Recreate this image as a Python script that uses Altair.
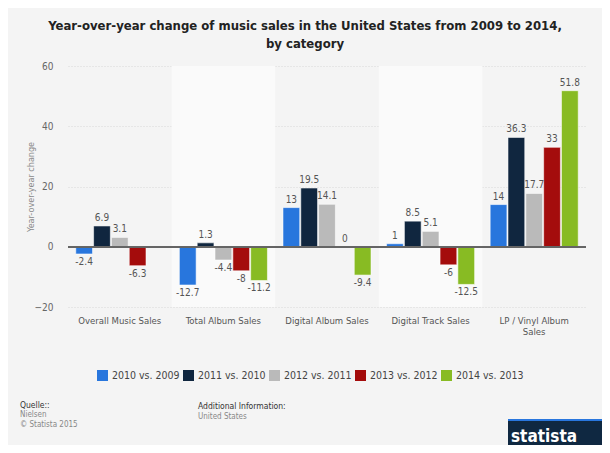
import altair as alt
import pandas as pd

categories = ["Overall Music Sales", "Total Album Sales", "Digital Album Sales",
              "Digital Track Sales", "LP / Vinyl Album Sales"]
series = ["2010 vs. 2009", "2011 vs. 2010", "2012 vs. 2011", "2013 vs. 2012", "2014 vs. 2013"]
colors = ["#2876dd", "#10263f", "#bababa", "#a40c0c", "#88bb23"]

v2010 = [-2.4, -12.7, 13, 1, 14]
v2011 = [6.9, 1.3, 19.5, 8.5, 36.3]
v2012 = [3.1, -4.4, 14.1, 5.1, 17.7]
v2013 = [-6.3, -8, 0, -6, 33]
v2014 = [None, -11.2, -9.4, -12.5, 51.8]

shaded = ["Total Album Sales", "Digital Track Sales"]

rows = []
for s, vals in zip(series, [v2010, v2011, v2012, v2013, v2014]):
    for c, v in zip(categories, vals):
        if v is None:
            continue
        lab = ("%g" % v)
        rows.append({"category": c, "series": s, "value": v, "label": lab})
df = pd.DataFrame(rows)

bands = pd.DataFrame({"category": shaded, "top": [60] * len(shaded), "bottom": [-20] * len(shaded)})

FONT = "'DejaVu Sans Condensed', 'DejaVu Sans', sans-serif"
W, H = 518, 241

xscale = alt.Scale(domain=categories, paddingInner=0.15, paddingOuter=0.075)
yscale = alt.Scale(domain=[-20, 60], nice=False)

x_axis = alt.Axis(labelAngle=0, domain=False, ticks=False, labelPadding=8,
                  bandPosition=0.5,
                  labelColor="#555555", labelFontSize=9.5, labelFont=FONT,
                  labelExpr="datum.label == 'LP / Vinyl Album Sales' ? ['LP / Vinyl Album', 'Sales'] : datum.label")
x_enc = alt.X("category:N", scale=xscale, sort=categories, title=None, axis=x_axis)
y_axis = alt.Axis(values=[-20, 0, 20, 40, 60], domain=False, ticks=False,
                  labelPadding=15, labelColor="#666666", labelFontSize=10, labelFont=FONT,
                  gridColor="#d8d8d8", gridDash=[1, 2], gridWidth=1,
                  title="Year-over-year change", titleFont=FONT, titleFontSize=9,
                  titleFontWeight="normal", titleColor="#8a8a8a",
                  titleX=-38, titleY=H / 2, titleAngle=-90, titleAlign="center",
                  titleBaseline="middle")

band_layer = alt.Chart(bands).mark_bar(color="#fafafa", width=alt.RelativeBandSize(1 / 0.85)).encode(
    x=x_enc,
    y=alt.Y("top:Q", scale=yscale, axis=y_axis),
    y2="bottom:Q",
)

bars = alt.Chart(df).mark_bar(stroke="#ffffff", strokeWidth=0.8, strokeOpacity=0.7).encode(
    x=x_enc,
    y=alt.Y("value:Q", scale=yscale, axis=y_axis),
    y2=alt.datum(0),
    xOffset=alt.XOffset("series:N", sort=series, scale=alt.Scale(domain=series, paddingInner=0.06)),
    color=alt.Color("series:N", sort=series, scale=alt.Scale(domain=series, range=colors),
                    legend=alt.Legend(title=None, orient="none", direction="horizontal",
                                      legendX=29, legendY=304, symbolType="square",
                                      symbolSize=121, symbolStrokeWidth=0, labelFont=FONT,
                                      labelFontSize=10.5, labelColor="#444444",
                                      columnPadding=3, labelOffset=4)),
)

zero = alt.Chart(df).mark_rule(color="#666666", strokeWidth=1.2).encode(y=alt.datum(0))

def labels(pos):
    cond = "datum.value >= 0" if pos else "datum.value < 0"
    return alt.Chart(df).transform_filter(cond).mark_text(
        font=FONT, fontSize=10, color="#555555",
        baseline="bottom" if pos else "top", dy=-3 if pos else 3,
    ).encode(
        x=x_enc,
        xOffset=alt.XOffset("series:N", sort=series, scale=alt.Scale(domain=series, paddingInner=0.06)),
        y=alt.Y("value:Q", scale=yscale, axis=y_axis),
        text="label:N",
    )

def note(txt, x, y, size=8.5, color="#333333", weight="normal"):
    return alt.Chart(pd.DataFrame({"t": [txt]})).mark_text(
        font=FONT, fontSize=size, color=color, fontWeight=weight, align="left", baseline="middle"
    ).encode(x=alt.value(x), y=alt.value(y), text="t:N")

logo_box = alt.Chart(pd.DataFrame({"a": [0]})).mark_rect(color="#0f2841").encode(
    x=alt.value(440), x2=alt.value(540), y=alt.value(354), y2=alt.value(390))
logo_edge = alt.Chart(pd.DataFrame({"a": [0]})).mark_rule(color="#2876dd", strokeWidth=2).encode(
    x=alt.value(440), x2=alt.value(540), y=alt.value(354))
logo_text = alt.Chart(pd.DataFrame({"t": ["statista"]})).mark_text(
    font="'DejaVu Sans Condensed', 'DejaVu Sans', sans-serif", fontSize=17, fontWeight="bold",
    color="#ffffff", align="center", baseline="middle"
).encode(x=alt.value(476), y=alt.value(371), text="t:N")

chart = alt.layer(
    band_layer, bars, zero, labels(True), labels(False),
    note("Quelle::", -48, 339, 8.5, "#333333"),
    note("Nielsen", -48, 349, 8, "#888888"),
    note("\u00a9 Statista 2015", -48, 359, 8, "#888888"),
    note("Additional Information:", 130, 340, 8.5, "#333333"),
    note("United States", 130, 351, 8, "#888888"),
    logo_box, logo_edge, logo_text,
).properties(
    width=W, height=H,
    title=alt.TitleParams(
        text=["Year-over-year change of music sales in the United States from 2009 to 2014,",
              "by category"],
        font=FONT, fontSize=13, fontWeight="bold", color="#222222",
        anchor="middle", dx=-22, offset=10, lineHeight=18,
    ),
    autosize=alt.AutoSizeParams(type="none"),
    padding={"left": 60, "top": 58, "right": 16, "bottom": 138},
    background="#f4f4f4",
).configure_view(stroke=None).configure_axis(grid=True).configure_axisX(grid=False)

chart.save("out.html", embed_options={"renderer": "svg", "actions": False})
